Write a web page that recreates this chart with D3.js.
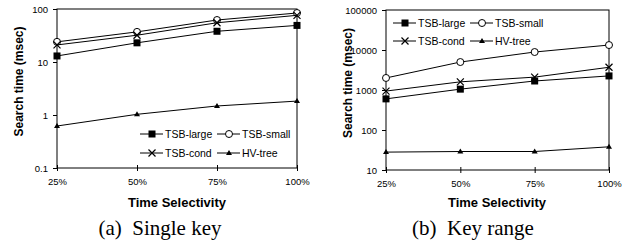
<!DOCTYPE html>
<html>
<head>
<meta charset="utf-8">
<script src="https://cdn.jsdelivr.net/npm/d3@7"></script>
<style>
  body { margin: 0; background: white; }
  svg { display: block; }
</style>
</head>
<body>
<svg id="chart" width="633" height="247"></svg>
<script>
// x categories
const selectivity = ["25%", "50%", "75%", "100%"]
const seriesNames = ["TSB-large", "TSB-small", "TSB-cond", "HV-tree"]

// (a) single key, msec
const singleLarge = [13, 23, 38, 49]
const singleSmall = [24, 37, 62, 84]
const singleCond = [21, 32, 55, 76]
const singleHV = [0.62, 1.03, 1.48, 1.83]
const singleTicks = [0.1, 1, 10, 100]

// (b) key range, msec
const rangeLarge = [600, 1050, 1680, 2250]
const rangeSmall = [2000, 5000, 8900, 13300]
const rangeCond = [940, 1600, 2100, 3700]
const rangeHV = [28, 29, 29, 38]
const rangeTicks = [10, 100, 1000, 10000, 100000]

const svg = d3.select("#chart")
const sans = "Liberation Sans, Arial, sans-serif"

function marker(g, kind, x, y) {
    if (kind == 0) {
        g.append("rect").attr("x", x - 3.5).attr("y", y - 3.5)
            .attr("width", 7).attr("height", 7).attr("fill", "black")
    } else if (kind == 1) {
        g.append("circle").attr("cx", x).attr("cy", y).attr("r", 3.5)
            .attr("fill", "white").attr("stroke", "black").attr("stroke-width", 1)
    } else if (kind == 2) {
        g.append("path").attr("d", `M${x-3.5},${y-3.5}L${x+3.5},${y+3.5}M${x-3.5},${y+3.5}L${x+3.5},${y-3.5}`)
            .attr("stroke", "black").attr("stroke-width", 1.2)
    } else {
        g.append("path").attr("d", `M${x},${y-3}L${x+3},${y+2}L${x-3},${y+2}Z`)
            .attr("fill", "black")
    }
}

function panel(opt) {
    const g = svg.append("g")
    let x = d3.scalePoint().domain(selectivity).range([opt.left, opt.right])
    let y = d3.scaleLog().domain(opt.domain).range([opt.bottom, opt.top])

    // frame
    g.append("rect").attr("x", opt.left).attr("y", opt.top)
        .attr("width", opt.right - opt.left).attr("height", opt.bottom - opt.top)
        .attr("fill", "none").attr("stroke", "black").attr("stroke-width", 1)

    let yAxis = g.append("g").attr("transform", `translate(${opt.left},0)`)
        .call(d3.axisLeft(y).tickValues(opt.ticks).tickSize(4).tickPadding(5).tickFormat(d3.format("")))
    let xAxis = g.append("g").attr("transform", `translate(0,${opt.bottom})`)
        .call(d3.axisBottom(x).tickSize(-3).tickPadding(10))
    for (let a of [yAxis, xAxis]) {
        a.select(".domain").remove()
        a.selectAll("line").attr("stroke", "black")
        a.selectAll("text").attr("font-family", sans)
            .attr("font-size", 9.5).attr("fill", "black")
    }
    xAxis.selectAll("line").attr("y2", 3).attr("y1", -3)

    let line = d3.line().x((d, i) => x(selectivity[i])).y(d => y(d))
    opt.series.forEach((s, k) => {
        g.append("path").attr("d", line(s)).attr("fill", "none")
            .attr("stroke", "black").attr("stroke-width", 1)
        s.forEach((v, i) => marker(g, k, x(selectivity[i]), y(v)))
    })

    // legend
    opt.series.forEach((s, k) => {
        let lx = opt.legX + (k % 2) * opt.legDx
        let ly = opt.legY + Math.floor(k / 2) * opt.legDy
        g.append("line").attr("x1", lx).attr("x2", lx + 23).attr("y1", ly).attr("y2", ly)
            .attr("stroke", "black").attr("stroke-width", 1)
        marker(g, k, lx + 12, ly)
        g.append("text").attr("x", lx + 25).attr("y", ly + 3.5)
            .attr("font-family", sans).attr("font-size", 10.5)
            .text(seriesNames[k])
    })

    g.append("text")
        .attr("transform", `translate(${opt.left - 34},${(opt.top + opt.bottom) / 2 - 7}) rotate(-90)`)
        .attr("text-anchor", "middle")
        .attr("font-family", sans).attr("font-size", 12)
        .attr("font-weight", "bold")
        .text("Search time (msec)")
    g.append("text").attr("x", opt.labelX).attr("y", 207)
        .attr("text-anchor", "middle")
        .attr("font-family", sans).attr("font-size", 13)
        .attr("font-weight", "bold")
        .text("Time Selectivity")
    g.append("text").attr("x", opt.capX).attr("y", 235)
        .attr("text-anchor", "middle")
        .attr("font-family", "Liberation Serif, Times New Roman, serif").attr("font-size", 21)
        .attr("xml:space", "preserve")
        .text(opt.caption)
}

panel({
    left: 57, right: 297, top: 9, bottom: 168,
    domain: [0.1, 100], ticks: singleTicks,
    series: [singleLarge, singleSmall, singleCond, singleHV],
    legX: 140, legY: 134, legDx: 77, legDy: 19,
    labelX: 177, capX: 160, caption: "(a)  Single key"
})

panel({
    left: 386, right: 609, top: 10, bottom: 170,
    domain: [10, 100000], ticks: rangeTicks,
    series: [rangeLarge, rangeSmall, rangeCond, rangeHV],
    legX: 393, legY: 23, legDx: 77, legDy: 18,
    labelX: 497, capX: 473, caption: "(b)  Key range"
})
</script>
</body>
</html>
